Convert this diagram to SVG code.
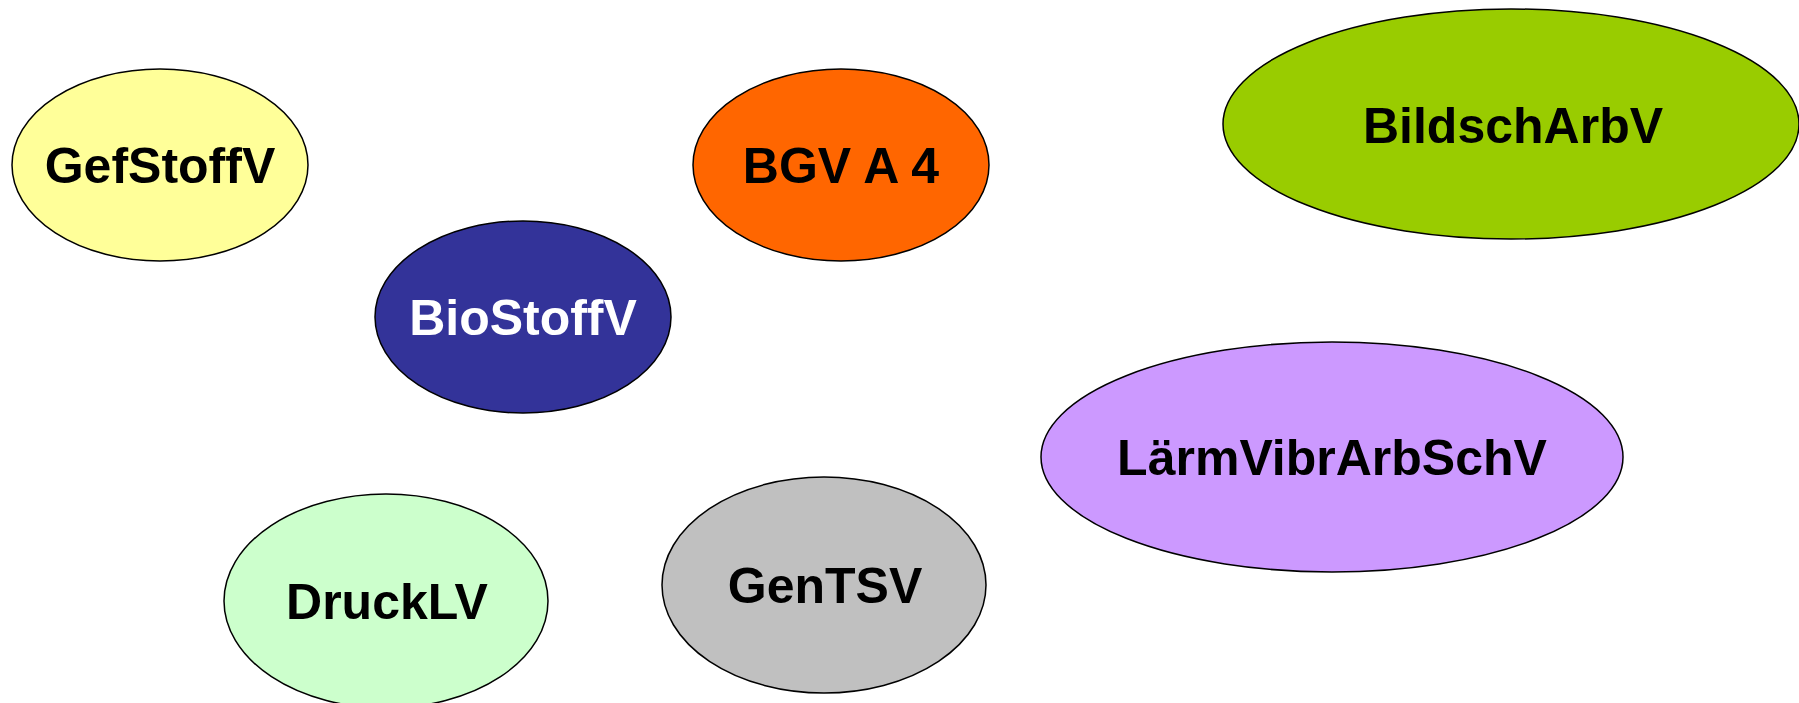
<svg xmlns="http://www.w3.org/2000/svg" width="1799" height="703" viewBox="0 0 1799 703">
<style>
ellipse{stroke:#000;stroke-width:1.5}
text{font-family:"Liberation Sans",Arial,sans-serif;font-weight:bold;font-size:50px;text-anchor:middle;fill:#000}
</style>
<rect width="1799" height="703" fill="#fff"/>
<g id="GefStoffV"><ellipse cx="160" cy="165" rx="148" ry="96" fill="#FFFF99"/><text x="160" y="183">GefStoffV</text></g>
<g id="BGVA4"><ellipse cx="841" cy="165" rx="148" ry="96" fill="#FF6600"/><text x="841" y="183">BGV A 4</text></g>
<g id="BildschArbV"><ellipse cx="1511" cy="124" rx="288" ry="115" fill="#99CC00"/><text x="1513" y="143">BildschArbV</text></g>
<g id="BioStoffV"><ellipse cx="523" cy="317" rx="148" ry="96" fill="#333399"/><text x="523" y="335" style="fill:#fff">BioStoffV</text></g>
<g id="LaermVibrArbSchV"><ellipse cx="1332" cy="457" rx="291" ry="115" fill="#CC99FF"/><text x="1332" y="475">LärmVibrArbSchV</text></g>
<g id="DruckLV"><ellipse cx="386" cy="601" rx="162" ry="107" fill="#CCFFCC"/><text x="387" y="619">DruckLV</text></g>
<g id="GenTSV"><ellipse cx="824" cy="585" rx="162" ry="108" fill="#C0C0C0"/><text x="825" y="603">GenTSV</text></g>
<g id="connectors"></g>
</svg>
